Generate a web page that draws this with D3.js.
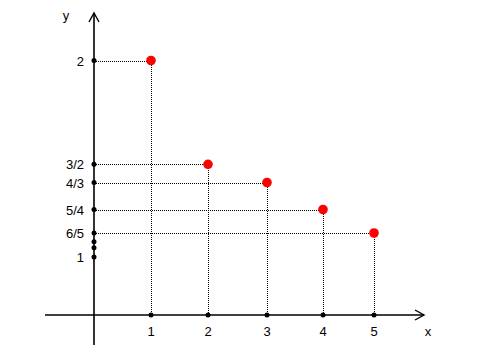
<!DOCTYPE html>
<html><head><meta charset="utf-8">
<script src="https://cdn.jsdelivr.net/npm/d3@7"></script>
<style>body{margin:0;background:#fff}svg{display:block}text{font-family:"Liberation Sans",Arial,sans-serif;font-size:13px;fill:#000}</style>
</head><body><div id="chart"></div>
<script>
const xValues = [1, 2, 3, 4, 5];
const yValues = [2, 3/2, 4/3, 5/4, 6/5];
const xTickLabels = ["1", "2", "3", "4", "5"];
const yTickLabels = ["2", "3/2", "4/3", "5/4", "6/5", "1"];
const yTickValues = [2, 3/2, 4/3, 5/4, 6/5, 1];
const extraYDots = [7/6, 8/7];

const W = 489, H = 360;
const svg = d3.select("#chart").append("svg").attr("width", W).attr("height", H);

// schematic (non-uniform) axes, as in the reference
const x = d3.scaleLinear().domain([0, 1, 2, 3, 4, 5]).range([94, 151, 208, 267, 323, 374]);
const y = d3.scaleLinear().domain([0, 1, 8/7, 7/6, 6/5, 5/4, 4/3, 3/2, 2])
  .range([315, 257, 247.7, 241.7, 233, 209.5, 182.5, 164.3, 60.5]);

const x0 = x(0), y0 = y(0);
const pts = xValues.map((v, i) => ({x: v, y: yValues[i]}));

// dotted guide lines
const g = svg.append("g").attr("stroke", "#000").attr("stroke-width", 1).attr("stroke-dasharray", "1,1")
  .attr("fill", "none").attr("shape-rendering", "crispEdges");
g.selectAll(".h").data(pts).join("line").attr("x1", x0).attr("x2", d => x(d.x)).attr("y1", d => Math.round(y(d.y)) + 0.5).attr("y2", d => Math.round(y(d.y)) + 0.5);
g.selectAll(".v").data(pts).join("line").attr("x1", d => Math.round(x(d.x)) + 0.5).attr("x2", d => Math.round(x(d.x)) + 0.5).attr("y1", d => y(d.y)).attr("y2", y0);

// axes
svg.append("line").attr("x1", 45).attr("x2", 424).attr("y1", y0).attr("y2", y0).attr("stroke", "#000").attr("stroke-width", 1.6);
svg.append("line").attr("x1", x0).attr("x2", x0).attr("y1", 345).attr("y2", 13).attr("stroke", "#000").attr("stroke-width", 1.6);
svg.append("path").attr("d", `M${x0-5},${22} L${x0},${13} L${x0+5},${22}`).attr("fill", "none").attr("stroke", "#000").attr("stroke-width", 1.4);
svg.append("path").attr("d", `M415,${y0-5} L424,${y0} L415,${y0+5}`).attr("fill", "none").attr("stroke", "#000").attr("stroke-width", 1.4);

svg.append("text").attr("x", 66).attr("y", 20).attr("text-anchor", "middle").text("y");
svg.append("text").attr("x", 428).attr("y", 336).attr("text-anchor", "middle").text("x");

// axis dots
svg.selectAll(".xd").data(xValues).join("circle").attr("cx", d => x(d)).attr("cy", y0).attr("r", 2.5).attr("fill", "#000");
svg.selectAll(".yd").data(yTickValues.concat(extraYDots)).join("circle").attr("cx", x0).attr("cy", d => y(d)).attr("r", 2.5).attr("fill", "#000");

// tick labels
svg.selectAll(".xl").data(xValues).join("text").attr("x", d => x(d)).attr("y", 336).attr("text-anchor", "middle").text((d, i) => xTickLabels[i]);
svg.selectAll(".yl").data(yTickValues).join("text").attr("x", 84).attr("y", d => y(d) + 5).attr("text-anchor", "end").text((d, i) => yTickLabels[i]);

// red points
svg.selectAll(".pt").data(pts).join("circle").attr("cx", d => x(d.x)).attr("cy", d => y(d.y)).attr("r", 4.8).attr("fill", "#ff0000");
</script></body></html>
